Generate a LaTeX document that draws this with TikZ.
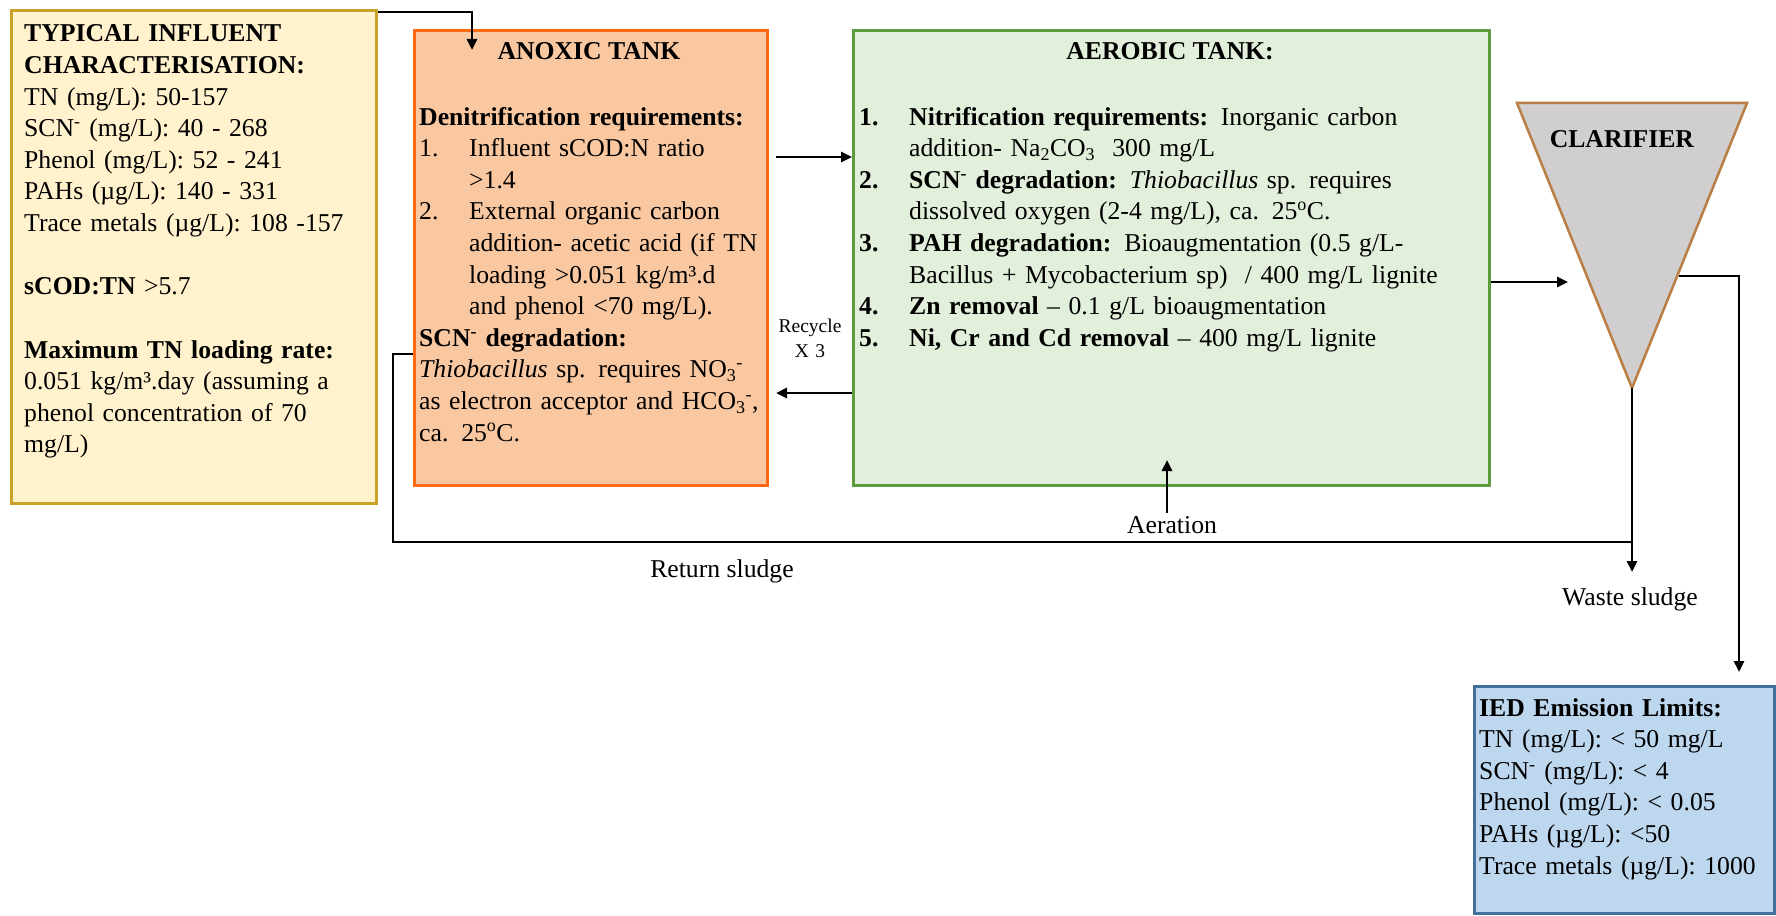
\documentclass[tikz,border=0pt]{standalone}
\usepackage{fontspec}
\setmainfont{Liberation Serif}
\usetikzlibrary{arrows.meta}
\definecolor{inflfill}{HTML}{FFF2CC}
\definecolor{infldraw}{HTML}{C9A227}
\definecolor{anoxfill}{HTML}{F9C7A0}
\definecolor{anoxdraw}{HTML}{FF6A10}
\definecolor{aerfill}{HTML}{E2EFDA}
\definecolor{aerdraw}{HTML}{5E9B3E}
\definecolor{clarfill}{HTML}{D0CECE}
\definecolor{clardraw}{HTML}{B97D45}
\definecolor{iedfill}{HTML}{BDD7EE}
\definecolor{ieddraw}{HTML}{41719C}
\newcommand\mainsize{\fontsize{25.7}{31.6}\selectfont}
\newcommand\smallsz{\fontsize{19.5}{25}\selectfont}
\newcommand\js[2]{\makebox[#1pt][s]{#2}}
\newcommand\nb[1]{\makebox[50pt][l]{#1}}
\begin{document}
\begin{tikzpicture}[x=1pt,y=-1pt,
  tankbox/.style={draw, line width=3pt, inner sep=0pt, anchor=north west},
  txt/.style={inner sep=0pt, font=\mainsize},
  para/.style={txt, anchor=base west, text width=#1pt, align=left},
  conn/.style={draw=black, line width=2.6pt},
  arr/.style={conn, -{Triangle[length=11pt,width=10pt]}},
]
\useasboundingbox (0,0) rectangle (1776,915);

% boxes
\node[tankbox, draw=infldraw, fill=inflfill, minimum width=365pt, minimum height=493pt] (infl) at (10,9) {};
\node[tankbox, draw=anoxdraw, fill=anoxfill, minimum width=353pt, minimum height=455pt] (anox) at (413,29) {};
\node[tankbox, draw=aerdraw, fill=aerfill, minimum width=636pt, minimum height=455pt] (aer) at (852,29) {};
\node[tankbox, draw=ieddraw, fill=iedfill, minimum width=300pt, minimum height=227pt] (ied) at (1473,685) {};

% clarifier
\coordinate (ctl) at (1517,103);
\coordinate (ctr) at (1747,103);
\coordinate (capex) at (1632,388);
\draw[draw=clardraw, fill=clarfill, line width=2.5pt, line join=miter] (ctl) -- (ctr) -- (capex) -- cycle;
\node[txt, anchor=base] (clarhd) at (1622,147) {\textbf{CLARIFIER}};

% left box text
\node[para=360] (infltxt) at (24,42) {%
\textbf{TYPICAL INFLUENT}\\
\textbf{CHARACTERISATION:}\\
TN (mg/L): 50-157\\
SCN\textsuperscript{-} (mg/L): 40 - 268\\
Phenol (mg/L): 52 - 241\\
PAHs (µg/L): 140 - 331\\
Trace metals (µg/L): 108 -157\\[31.6pt]
\textbf{sCOD:TN} >5.7\\[31.6pt]
\js{309}{\textbf{Maximum TN loading rate:}}\\
\js{306}{0.051 kg/m³.day (assuming a}\\
\js{281}{phenol concentration of 70}\\
mg/L)};

% anoxic text
\node[txt, anchor=base] (anoxhd) at (589,60) {\textbf{ANOXIC TANK}};
\node[para=400] (anoxtxt) at (419,125) {%
\js{326}{\textbf{Denitrification requirements:}}\\
\nb{1.}Influent sCOD:N ratio\\
\hspace*{50pt}>1.4\\
\nb{2.}\js{249}{External organic carbon}\\
\hspace*{50pt}\js{286}{addition- acetic acid (if TN}\\
\hspace*{50pt}loading >0.051 kg/m³.d\\
\hspace*{50pt}and phenol <70 mg/L).\\
\textbf{SCN\textsuperscript{-} degradation:}\\
\js{318}{\textit{Thiobacillus} sp. requires NO\textsubscript{3}\textsuperscript{-}}\\
\js{334}{as electron acceptor and HCO\textsubscript{3}\textsuperscript{-},}\\
ca. 25\textsuperscript{o}C.};

% aerobic text
\node[txt, anchor=base] (aerhd) at (1170,60) {\textbf{AEROBIC TANK:}};
\node[para=600] (aertxt) at (859,125) {%
\nb{\textbf{1.}}\js{485}{\textbf{Nitrification requirements:} Inorganic carbon}\\
\hspace*{50pt}addition- Na\textsubscript{2}CO\textsubscript{3}\ \ 300 mg/L\\
\nb{\textbf{2.}}\js{473}{\textbf{SCN\textsuperscript{-} degradation:} \textit{Thiobacillus} sp. requires}\\
\hspace*{50pt}\js{414}{dissolved oxygen (2-4 mg/L), ca. 25\textsuperscript{o}C.}\\
\nb{\textbf{3.}}\js{491}{\textbf{PAH degradation:} Bioaugmentation (0.5 g/L-}\\
\hspace*{50pt}\js{521}{Bacillus + Mycobacterium sp)\ \ / 400 mg/L lignite}\\
\nb{\textbf{4.}}\textbf{Zn removal} -- 0.1 g/L bioaugmentation\\
\nb{\textbf{5.}}\textbf{Ni, Cr and Cd removal} -- 400 mg/L lignite};

% IED text
\node[para=290] (iedtxt) at (1479,716) {%
\textbf{IED Emission Limits:}\\
TN (mg/L): < 50 mg/L\\
SCN\textsuperscript{-} (mg/L): < 4\\
Phenol (mg/L): < 0.05\\
PAHs (µg/L): <50\\
Trace metals (µg/L): 1000};

% labels
\node[inner sep=0pt, font=\smallsz, text width=80pt, align=center, anchor=base] (recycle) at (810,332) {Recycle\\X 3};
\node[txt, anchor=base] (aerat) at (1172,533) {Aeration};
\node[txt, anchor=base] (retsl) at (722,577) {Return sludge};
\node[txt, anchor=base] (wastesl) at (1630,605) {Waste sludge};

% coordinates
\coordinate (anoxin) at (472,50);
\coordinate (f1) at (0,157);
\coordinate (r1) at (0,393);
\coordinate (c1) at (0,282);
\coordinate (clin) at (1568,282);
\coordinate (clout) at (1679,276);
\coordinate (ovf) at (1739,672);
\coordinate (wsend) at (1632,572);
\coordinate (rsj) at (1632,542);
\coordinate (rsc) at (393,354);
\coordinate (aerbot) at (1167,513);
\coordinate (aertip) at (1167,460);

% connectors
\draw[arr] ([yshift=-3pt]infl.north east) -| (anoxin);
\draw[arr, shorten <=7pt] (anox.east |- f1) -- (aer.west |- f1);
\draw[arr, shorten >=7pt] (aer.west |- r1) -- (anox.east |- r1);
\draw[arr] (aer.east |- c1) -- (clin);
\draw[arr] (clout) -| (ovf);
\draw[arr] (capex) -- (wsend);
\draw[conn] (rsj) -| (rsc) -- (anox.west |- rsc);
\draw[arr] (aerbot) -- (aertip);
\end{tikzpicture}
\end{document}
